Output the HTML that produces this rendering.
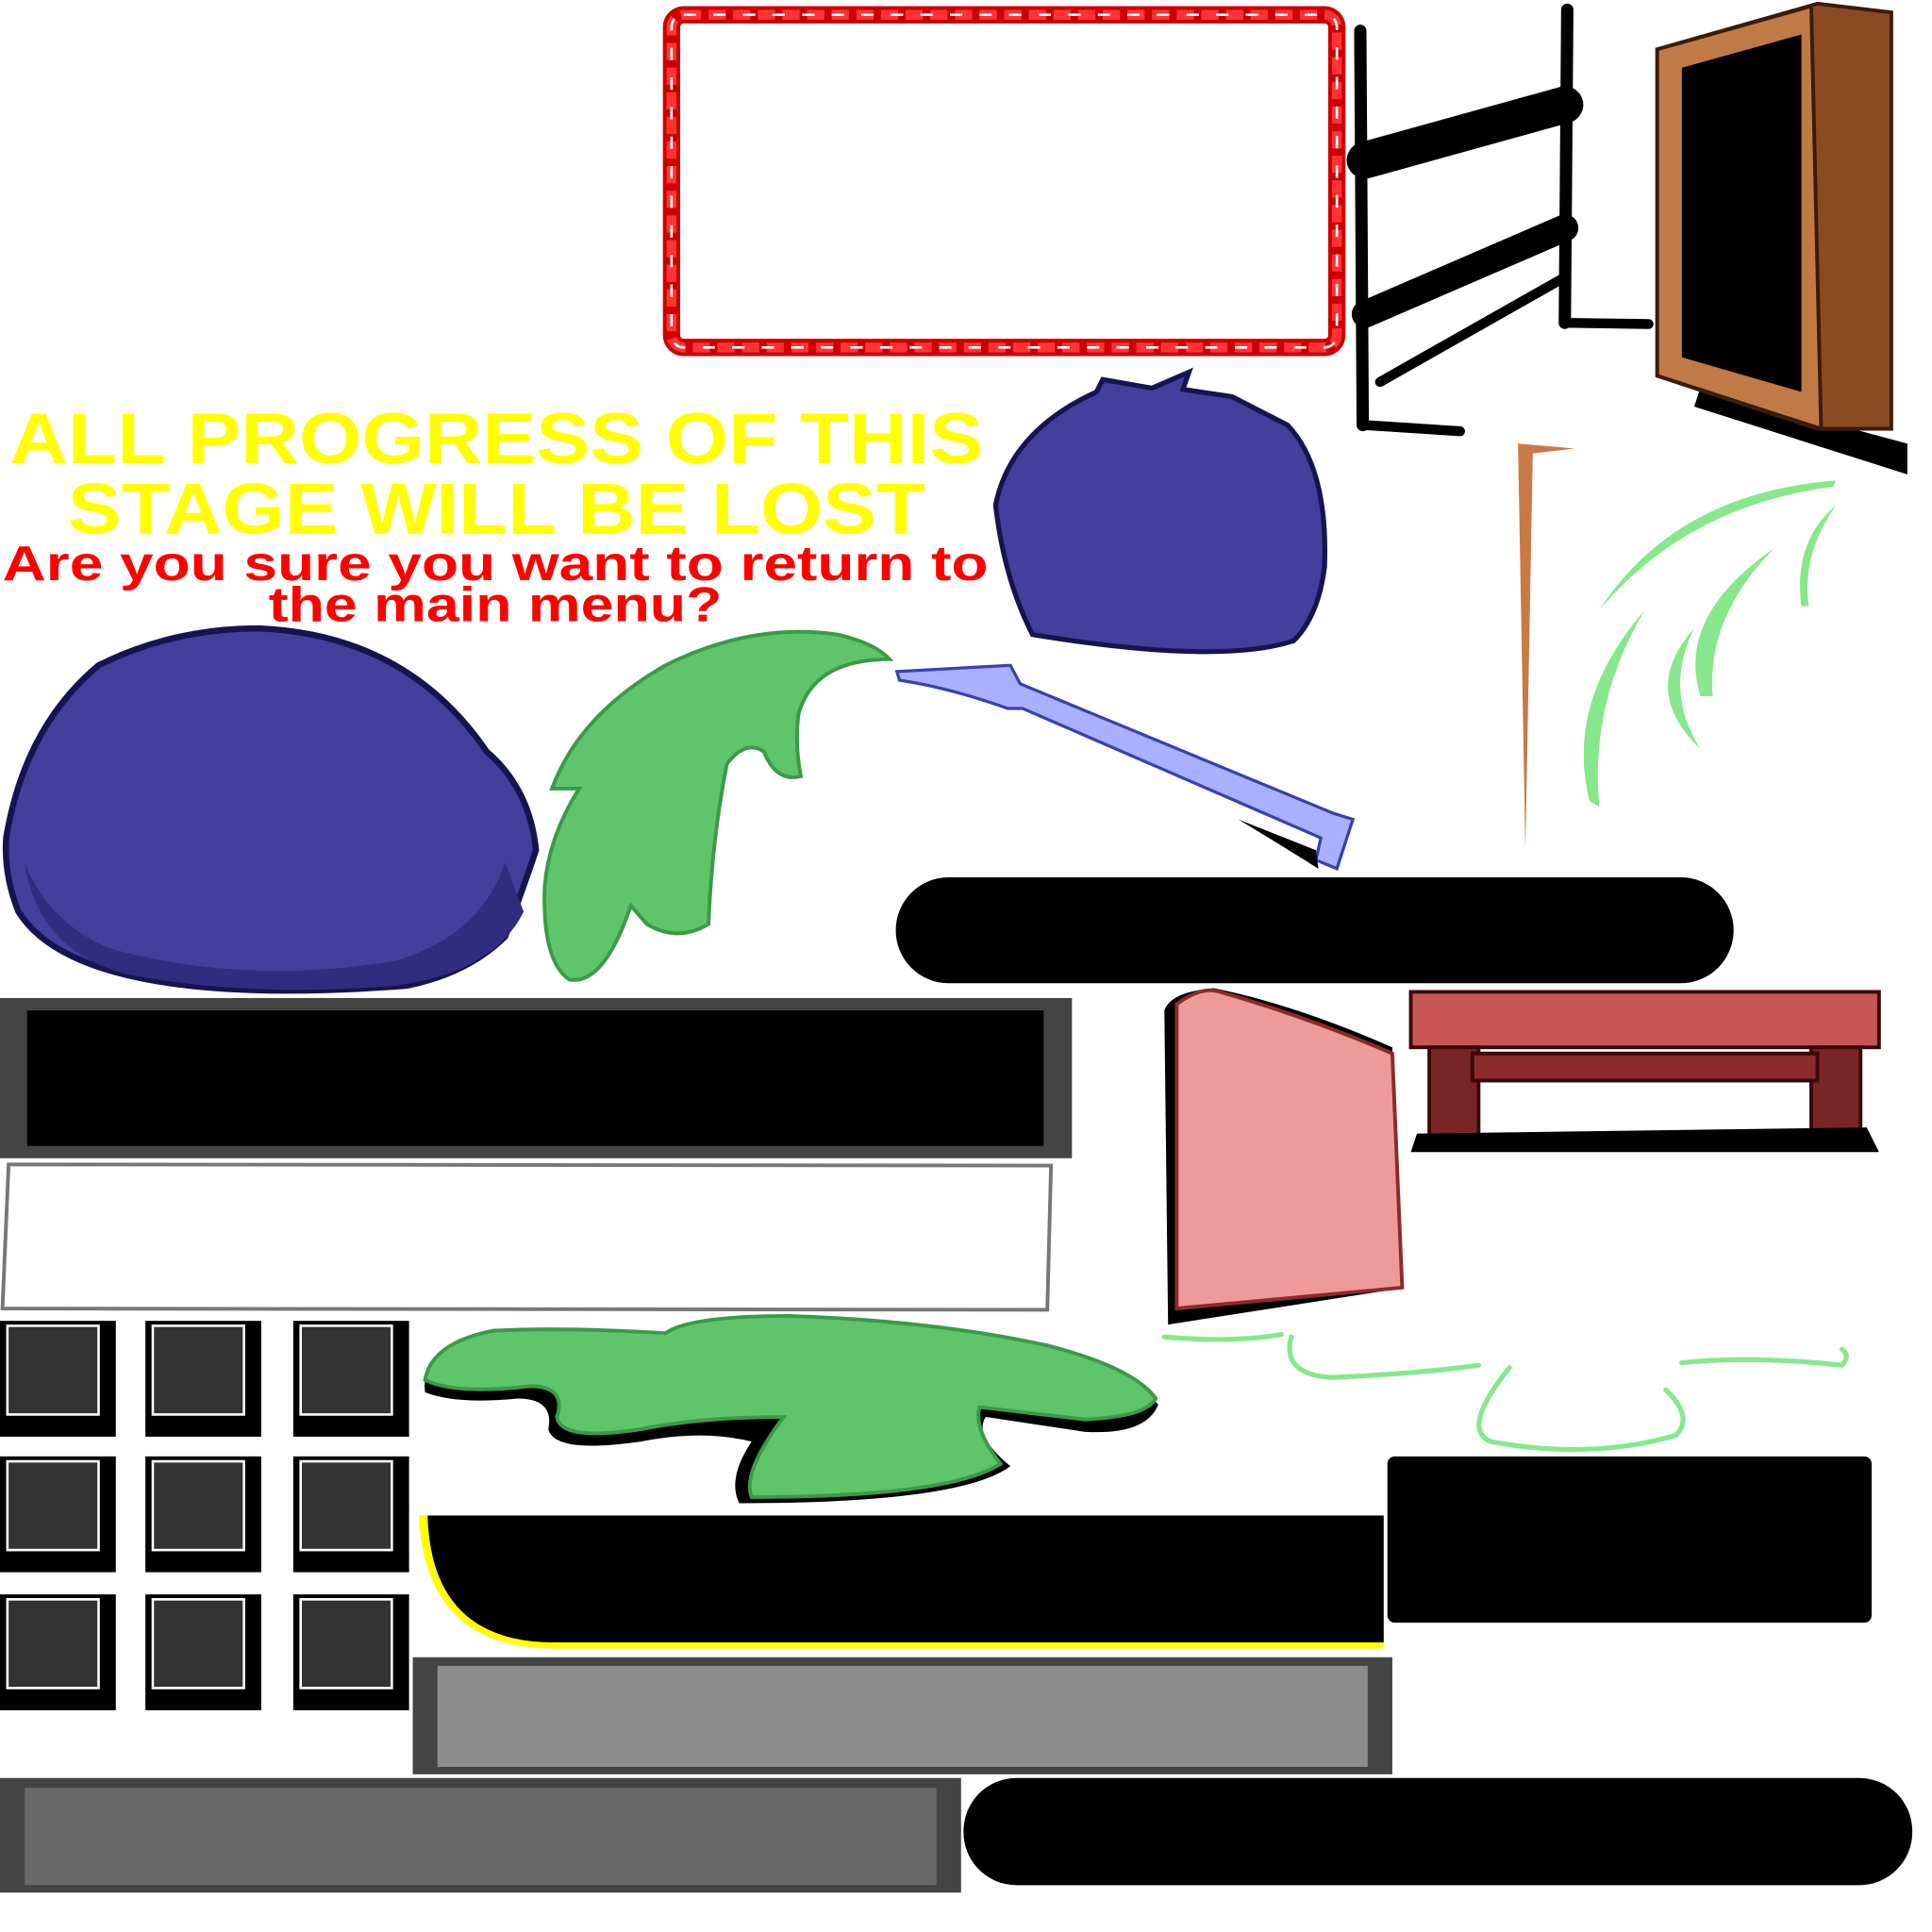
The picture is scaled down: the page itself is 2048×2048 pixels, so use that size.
<!DOCTYPE html>
<html><head><style>html,body{margin:0;padding:0;background:#fff}svg{display:block}</style></head>
<body>
<svg width="2048" height="2048" viewBox="0 0 1568 1568" xmlns="http://www.w3.org/2000/svg">
<rect width="1568" height="1568" fill="#fff"/>
<!-- red rope frame -->
<rect x="545" y="12" width="540" height="270" rx="10" fill="none" stroke="#c00" stroke-width="14"/>
<rect x="545" y="12" width="540" height="270" rx="10" fill="none" stroke="#f33" stroke-width="8" stroke-dasharray="14 6"/>
<rect x="545" y="12" width="540" height="270" rx="10" fill="none" stroke="#fff" stroke-width="2" stroke-dasharray="10 14"/>
<!-- black ladder -->
<g fill="none" stroke="#000" stroke-linecap="round">
<path d="M1104 25 L1106 345" stroke-width="10"/>
<path d="M1272 8 L1270 262" stroke-width="10"/>
<path d="M1108 345 L1185 350" stroke-width="8"/>
<path d="M1270 262 L1338 263" stroke-width="8"/>
<path d="M1108 130 L1270 85" stroke-width="30"/>
<path d="M1108 255 L1270 185" stroke-width="22"/>
<path d="M1120 310 L1270 225" stroke-width="8"/>
</g>
<!-- wooden frame -->
<polygon points="1375,330 1548,385 1548,360 1380,315" fill="#000"/>
<polygon points="1345,40 1475,3 1535,10 1535,348 1475,348 1345,305" fill="#8b4a22" stroke="#3a1c08" stroke-width="3"/>
<polygon points="1345,40 1470,5 1478,348 1345,305" fill="#c07a45" stroke="#3a1c08" stroke-width="3"/>
<polygon points="1365,55 1462,28 1462,318 1365,290" fill="#000"/>
<!-- orange stick -->
<path d="M1232 360 L1238 690 L1244 368 L1278 364 Z" fill="#c87a45"/>
<!-- green strokes -->
<g fill="#86e88a">
<path d="M1298 495 Q1360 400 1490 390 L1488 395 Q1370 410 1298 495Z"/>
<path d="M1335 495 Q1270 570 1290 650 L1298 655 Q1290 570 1335 495Z"/>
<path d="M1440 445 Q1360 500 1380 565 L1390 565 Q1385 500 1440 445Z"/>
<path d="M1490 410 Q1455 440 1462 492 L1468 492 Q1462 450 1490 410Z"/>
<path d="M1375 510 Q1330 560 1380 608 Q1350 560 1375 510Z"/>
</g>
<!-- text -->
<g font-family="Liberation Sans, sans-serif" font-weight="bold" text-anchor="start">
<text x="8" y="376" font-size="58" fill="#ff0" textLength="790" lengthAdjust="spacingAndGlyphs">ALL PROGRESS OF THIS</text>
<text x="55" y="433" font-size="58" fill="#ff0" textLength="696" lengthAdjust="spacingAndGlyphs">STAGE WILL BE LOST</text>
<text x="2" y="471" font-size="40" fill="#f00" textLength="800" lengthAdjust="spacingAndGlyphs">Are you sure you want to return to</text>
<text x="218" y="504" font-size="40" fill="#f00" textLength="368" lengthAdjust="spacingAndGlyphs">the main menu?</text>
</g>
<!-- small blue hair -->
<path d="M838 515 Q815 470 808 410 Q820 350 890 318 L895 308 L935 315 L965 302 L960 316 L1000 322 L1045 345 Q1078 380 1075 460 Q1070 500 1050 520 Q990 540 838 515Z" fill="#443f9c" stroke="#161450" stroke-width="4"/>
<!-- large blue hair -->
<path d="M5 680 Q20 590 80 540 Q140 510 210 510 Q330 515 395 610 Q430 640 435 690 Q425 720 410 760 Q380 790 330 800 Q200 810 120 795 Q40 780 15 740 Q3 710 5 680Z" fill="#443f9c" stroke="#161450" stroke-width="5"/>
<path d="M20 700 Q40 750 90 770 Q200 800 320 780 Q390 760 410 700 L425 740 Q400 790 320 800 Q200 810 100 790 Q30 770 20 700Z" fill="#302c80"/>
<!-- green leaf -->
<path d="M448 640 Q470 580 540 540 Q610 505 680 515 Q710 522 722 535 Q660 535 648 580 Q645 605 650 630 Q630 635 620 610 Q605 600 590 620 Q578 680 575 750 Q550 765 525 750 L512 735 Q490 800 462 795 Q440 780 442 720 Q445 680 470 640 Z" fill="#5ec56a" stroke="#3a9a48" stroke-width="3"/>
<!-- blue wand -->
<path d="M728 545 L820 540 L828 555 L1082 660 L1098 665 L1085 705 L1068 698 L1072 680 L830 575 L818 575 Q770 558 730 552Z" fill="#aab0ff" stroke="#3a40b0" stroke-width="2.5"/>
<path d="M1005 665 L1068 690 L1070 705 Q1030 680 1005 665Z" fill="#000"/>
<!-- pills/bars -->
<rect x="727" y="712" width="680" height="86" rx="43" fill="#000"/>
<rect x="0" y="810" width="870" height="130" fill="#444"/>
<rect x="22" y="820" width="825" height="110" fill="#000"/>
<path d="M7 945 L853 946 L850 1063 L2 1062Z" fill="#fff" stroke="#777" stroke-width="3"/>
<!-- pink paper -->
<path d="M945 820 L948 1075 L1128 1047 L1130 850 Q1050 815 985 802 Q950 805 945 820Z" fill="#000"/>
<path d="M955 815 Q975 800 990 805 Q1060 825 1130 855 L1138 1045 L955 1062 Z" fill="#ef9a9a" stroke="#8b2b2b" stroke-width="3"/>
<!-- red table -->
<rect x="1145" y="805" width="380" height="45" fill="#c95555" stroke="#3a0a0a" stroke-width="3"/>
<rect x="1160" y="850" width="40" height="80" fill="#7a2525" stroke="#3a0a0a" stroke-width="3"/>
<rect x="1470" y="850" width="40" height="80" fill="#7a2525" stroke="#3a0a0a" stroke-width="3"/>
<rect x="1195" y="855" width="280" height="22" fill="#8b2b2b" stroke="#3a0a0a" stroke-width="3"/>
<path d="M1145 935 L1525 935 L1515 915 L1150 920Z" fill="#000"/>
<!-- grey squares 3x3 -->
<g>
<g id="sq"><rect x="0" y="1072" width="94" height="94" fill="#000"/><rect x="6" y="1076" width="74" height="72" fill="#333" stroke="#fff" stroke-width="2"/></g>
<use href="#sq" x="118"/><use href="#sq" x="238"/>
<use href="#sq" y="110"/><use href="#sq" x="118" y="110"/><use href="#sq" x="238" y="110"/>
<use href="#sq" y="222"/><use href="#sq" x="118" y="222"/><use href="#sq" x="238" y="222"/>
</g>
<!-- green puddle -->
<path d="M345 1130 Q340 1095 400 1085 Q460 1080 540 1088 Q560 1070 640 1072 Q760 1075 850 1095 Q920 1115 940 1140 Q930 1165 880 1162 L800 1150 Q790 1165 820 1190 Q780 1220 600 1220 Q590 1200 610 1170 Q570 1160 520 1170 Q450 1180 445 1160 Q450 1135 420 1135 Q370 1140 345 1130Z" fill="#000"/>
<path d="M345 1120 Q350 1090 400 1080 Q460 1077 540 1082 Q560 1068 640 1068 Q760 1072 850 1092 Q920 1110 938 1135 Q930 1150 880 1152 L795 1142 Q790 1160 812 1188 Q770 1215 610 1215 Q602 1195 636 1150 Q570 1150 520 1160 Q455 1170 452 1150 Q460 1125 430 1125 Q370 1132 345 1120Z" fill="#5ec56a" stroke="#3a9a48" stroke-width="3"/>
<!-- green splash lines -->
<g fill="none" stroke="#86e88a" stroke-width="4" stroke-linecap="round">
<path d="M945 1085 Q1000 1090 1040 1083"/>
<path d="M1048 1085 Q1040 1115 1080 1118 Q1150 1115 1200 1108"/>
<path d="M1225 1110 Q1185 1160 1210 1170 Q1290 1185 1360 1165 Q1375 1150 1352 1128"/>
<path d="M1365 1106 Q1420 1100 1495 1108 Q1502 1100 1495 1095"/>
</g>
<rect x="1126" y="1182" width="393" height="135" rx="6" fill="#000"/>
<path d="M340 1230 L1123 1230 L1123 1338 L450 1338 Q345 1338 340 1230Z" fill="#ff0"/>
<path d="M347 1230 L1123 1230 L1123 1333 L450 1333 Q350 1333 347 1230Z" fill="#000"/>
<rect x="335" y="1345" width="795" height="95" fill="#444"/>
<rect x="355" y="1352" width="755" height="82" fill="#8c8c8c"/>
<rect x="0" y="1443" width="780" height="93" fill="#444"/>
<rect x="20" y="1451" width="740" height="79" fill="#686868"/>
<rect x="782" y="1443" width="770" height="87" rx="43" fill="#000"/>
</svg>
</body></html>
